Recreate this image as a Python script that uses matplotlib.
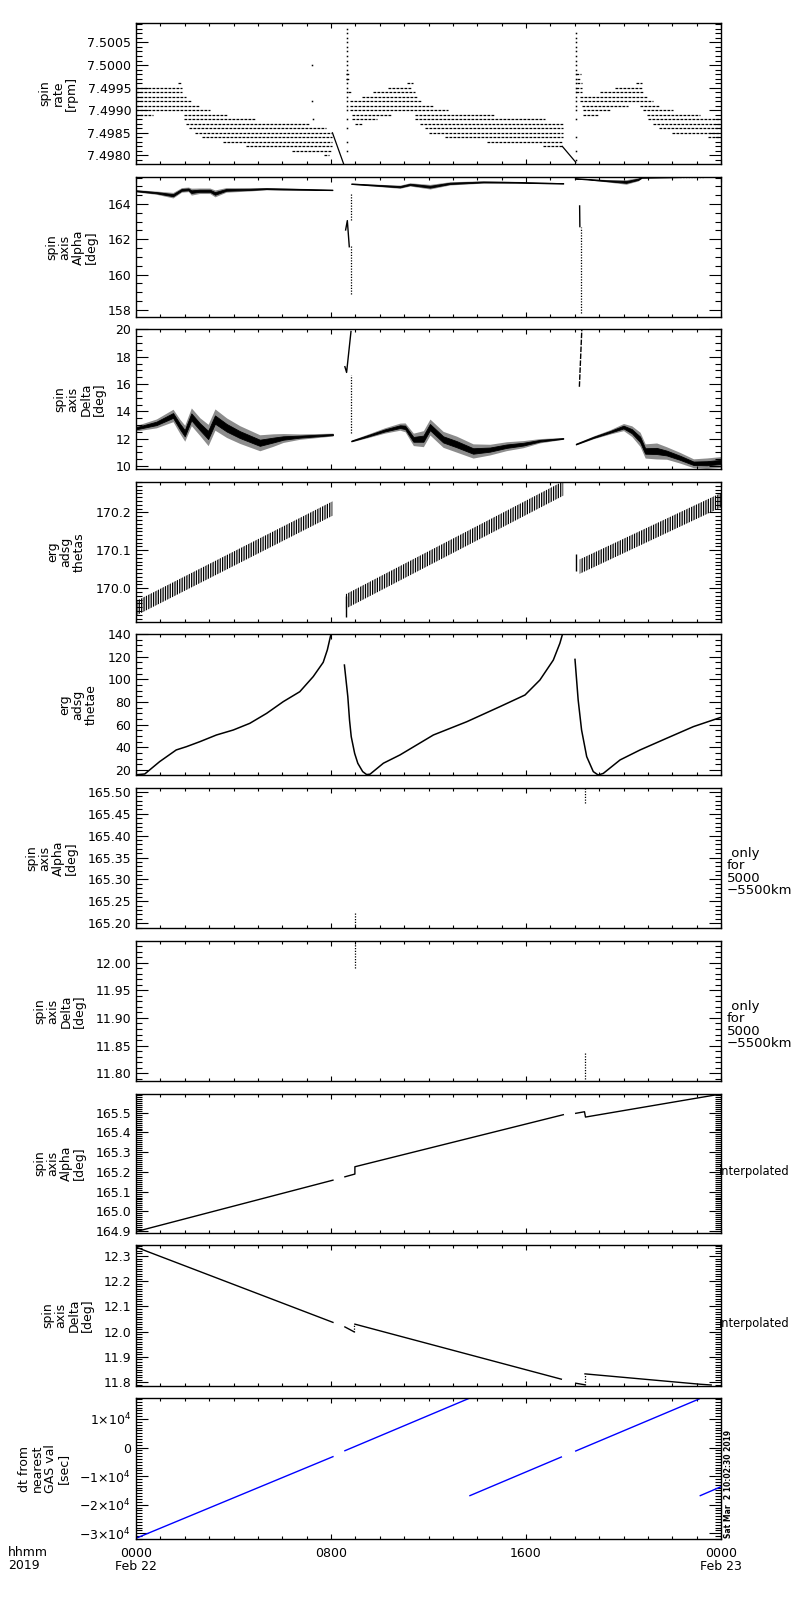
import numpy as np
import matplotlib

matplotlib.use("Agg")
import matplotlib.pyplot as plt
from matplotlib.ticker import MultipleLocator, AutoMinorLocator, FuncFormatter, FormatStrFormatter

plt.rcParams["font.family"] = ["DejaVu Sans"]
plt.rcParams["font.size"] = 9
plt.rcParams["hatch.linewidth"] = 0.9

# ---------------------------------------------------------------- data
# time axis is hours since 2019-02-22 00:00

# spin rate: quantised runs (level, start, end) per orbit
rate1_lvl = [7.4996, 7.4995, 7.4994, 7.4993, 7.4992, 7.4991, 7.4990, 7.4989, 7.4989,
             7.4988, 7.4987, 7.4986, 7.4985, 7.4984, 7.4983, 7.4982, 7.4981, 7.4980]
rate1_t0 = [1.73, 0, 0, 0, 0, 0, 0, 0, 1.95, 1.95, 2.07, 2.17, 2.40, 2.70, 3.57, 4.50, 6.40, 7.70]
rate1_t1 = [1.87, 1.87, 1.90, 2.07, 2.24, 2.60, 3.03, 0.70, 3.78, 4.90, 7.10, 7.80, 8.06, 8.06,
            8.06, 8.06, 8.06, 7.90]

rate2_lvl = [7.4998, 7.4997, 7.4996, 7.4995, 7.4994, 7.4994, 7.4993, 7.4992, 7.4991, 7.4990,
             7.4989, 7.4989, 7.4988, 7.4988, 7.4987, 7.4987, 7.4986, 7.4985, 7.4984, 7.4983,
             7.4982]
rate2_t0 = [8.62, 8.62, 11.10, 10.35, 8.68, 9.74, 9.26, 8.78, 8.78, 8.78, 8.85, 11.45, 8.85,
            11.45, 8.98, 11.65, 11.86, 12.00, 12.68, 14.41, 16.71]
rate2_t1 = [8.72, 8.72, 11.35, 11.31, 8.85, 11.45, 11.58, 11.72, 12.20, 12.81, 10.49, 14.73,
            9.87, 16.78, 9.26, 17.53, 17.53, 17.53, 17.53, 17.53, 17.53]

rate3_lvl = [7.4998, 7.4997, 7.4996, 7.4996, 7.4995, 7.4995, 7.4994, 7.4994, 7.4993, 7.4992,
             7.4991, 7.4991, 7.4990, 7.4990, 7.4989, 7.4989, 7.4988, 7.4987, 7.4986, 7.4985,
             7.4984]
rate3_t0 = [18.04, 18.08, 18.08, 20.50, 18.04, 19.65, 18.04, 19.04, 18.20, 18.20, 18.28, 20.68,
            18.33, 20.81, 18.35, 20.95, 21.02, 21.22, 21.47, 21.98, 23.48]
rate3_t1 = [18.26, 18.20, 18.30, 20.75, 18.30, 20.82, 18.30, 20.82, 20.95, 21.22, 20.20, 21.50,
            19.45, 22.04, 18.97, 23.14, 24.0, 24.0, 24.0, 24.0, 24.0]

rate_drop1_t = [8.06, 8.52]
rate_drop1_v = [7.4985, 7.49781]
rate_drop2_t = [17.49, 18.04]
rate_drop2_v = [7.4982, 7.49785]

rate_spike1_t = 8.64
rate_spike1_v = [7.4981, 7.4983, 7.4986, 7.4988, 7.4990, 7.4991, 7.4992, 7.4993, 7.4994,
                 7.4995, 7.4996, 7.4997, 7.4998, 7.4999, 7.5000, 7.5001, 7.5002, 7.5003,
                 7.5004, 7.5005, 7.5006, 7.5007, 7.5008]
rate_spike2_t = 18.04
rate_spike2_v = [7.4979, 7.4981, 7.4984, 7.4988, 7.4990, 7.4991, 7.4992, 7.4993, 7.4994,
                 7.4995, 7.4996, 7.4997, 7.4998, 7.4999, 7.5000, 7.5001, 7.5002, 7.5003,
                 7.5004, 7.5005, 7.5006, 7.5007]
rate_stray_t = [7.22, 7.22, 7.25]
rate_stray_v = [7.5000, 7.4992, 7.4988]

# spin axis alpha (measured): centre and half width of the noisy band
alpha1_t = [0, 0.84, 1.52, 1.87, 2.15, 2.27, 2.6, 3.03, 3.24, 3.7, 4.67, 5.35, 6.04, 8.06]
alpha1_c = [164.75, 164.64, 164.5, 164.8, 164.83, 164.7, 164.75, 164.75, 164.6, 164.8,
            164.83, 164.87, 164.85, 164.8]
alpha1_w = [0.05, 0.07, 0.12, 0.1, 0.1, 0.15, 0.12, 0.12, 0.15, 0.1, 0.07, 0.05, 0.05, 0.03]
alpha2_t = [8.83, 10.0, 10.83, 11.24, 12.06, 12.88, 14.25, 15.6, 17.53]
alpha2_c = [165.15, 165.05, 164.98, 165.11, 164.98, 165.17, 165.25, 165.23, 165.17]
alpha2_w = [0.03, 0.05, 0.07, 0.07, 0.1, 0.07, 0.05, 0.04, 0.03]
alpha3_t = [18.0, 18.48, 19.3, 20.11, 20.6, 20.75, 22.33]
alpha3_c = [165.45, 165.41, 165.32, 165.25, 165.4, 165.51, 165.53]
alpha3_w = [0.03, 0.03, 0.05, 0.1, 0.07, 0.04, 0.02]
alpha_spike1_t = [8.6, 8.67, 8.75]
alpha_spike1_v = [162.53, 163.06, 161.58]
alpha_spike2_t = [18.2, 18.21]
alpha_spike2_v = [163.89, 162.72]
alpha_dots_t = [8.8, 8.84, 18.25]
alpha_dots_lo = [158.9, 163.1, 157.8]
alpha_dots_hi = [161.6, 164.64, 162.7]

# spin axis delta (measured)
delta1_t = [0, 0.84, 1.52, 1.8, 2.0, 2.27, 2.62, 2.96, 3.24, 3.72, 4.26, 5.08, 5.63, 6.04,
            6.72, 8.08]
delta1_c = [12.76, 13.12, 13.7, 12.9, 12.4, 13.6, 12.88, 12.27, 13.4, 12.8, 12.3, 11.7, 11.9,
            12.05, 12.15, 12.3]
delta1_w = [0.15, 0.25, 0.35, 0.4, 0.45, 0.5, 0.5, 0.6, 0.6, 0.55, 0.5, 0.45, 0.35, 0.25,
            0.15, 0.08]
delta2_t = [8.83, 9.5, 10.2, 10.83, 11.04, 11.38, 11.79, 12.06, 12.6, 13.15, 13.83, 14.52,
            15.2, 15.89, 16.57, 17.53]
delta2_c = [11.83, 12.2, 12.6, 12.88, 12.83, 11.95, 12.0, 12.85, 11.95, 11.6, 11.1, 11.2,
            11.45, 11.6, 11.85, 12.02]
delta2_w = [0.05, 0.1, 0.15, 0.2, 0.25, 0.35, 0.45, 0.45, 0.45, 0.45, 0.4, 0.3, 0.25, 0.2,
            0.12, 0.05]
delta3_t = [18.04, 18.77, 19.45, 20.0, 20.34, 20.68, 20.89, 21.36, 21.77, 22.32, 22.87, 23.42, 24]
delta3_c = [11.6, 12.1, 12.5, 12.85, 12.55, 11.95, 11.1, 11.1, 10.95, 10.6, 10.2, 10.2, 10.3]
delta3_w = [0.05, 0.08, 0.12, 0.2, 0.3, 0.4, 0.4, 0.45, 0.35, 0.3, 0.25, 0.3, 0.3]
delta_spike1_t = [8.57, 8.64, 8.82]
delta_spike1_v = [17.27, 16.85, 19.85]
delta_spike2_t = [18.19, 18.29]
delta_spike2_v = [15.8, 20.0]
delta_dots_t = [8.82]
delta_dots_lo = [12.4]
delta_dots_hi = [16.66]

# erg adsg thetas: straight bands (start/end centre)
thetas_t = [[0, 8.06], [8.6, 17.53], [18.2, 24.0]]
thetas_c = [[169.947, 170.21], [169.965, 170.263], [170.057, 170.232]]
thetas_w = 0.019
thetas_spike_t = [8.6, 18.04]
thetas_spike_lo = [169.925, 170.045]
thetas_spike_hi = [169.98, 170.09]

# erg adsg thetae
thetae1_t = [0, 0.36, 0.97, 1.65, 2.07, 2.62, 3.3, 3.99, 4.67, 5.36, 6.04, 6.72, 7.27, 7.68,
             7.85, 8.0]
thetae1_v = [15.8, 16.5, 27.4, 37.7, 40.6, 45, 50.9, 55.3, 61.2, 70, 80.3, 89.1, 102.4, 115,
             126, 140]
thetae2_t = [8.55, 8.69, 8.76, 8.83, 8.97, 9.1, 9.3, 9.46, 9.6, 10.15, 10.83, 12.2, 13.57,
             14.93, 15.96, 16.57, 17.12, 17.39, 17.5]
thetae2_v = [112.6, 84.7, 64, 49.4, 34.7, 25.9, 18.6, 16.0, 16.3, 26, 33.3, 50.9, 62.6, 75.9,
             86.2, 99.4, 117, 131.8, 140]
thetae3_t = [18.01, 18.14, 18.28, 18.49, 18.76, 18.96, 19.17, 19.86, 20.68, 21.77, 22.87, 24.0]
thetae3_v = [117.6, 81.8, 55.3, 31.8, 18.6, 15.6, 17, 28.9, 37.7, 48, 58.3, 66.5]

# 5000-5500 km only samples
only_t = [9.0, 18.44]
only_alpha_lo = [165.19, 165.475]
only_alpha_hi = [165.226, 165.509]
only_delta_lo = [11.99, 11.79]
only_delta_hi = [12.035, 11.838]

# interpolated alpha / delta
ialpha1_t = [0, 8.08]
ialpha1_v = [164.897, 165.158]
ialpha2_t = [8.57, 8.98, 8.98, 17.53]
ialpha2_v = [165.175, 165.189, 165.226, 165.49]
ialpha3_t = [18.04, 18.4, 18.44, 24.0]
ialpha3_v = [165.497, 165.505, 165.478, 165.595]

idelta1_t = [0, 8.08]
idelta1_v = [12.335, 12.037]
idelta2_t = [8.57, 8.94]
idelta2_v = [12.019, 12.0]
idelta2b_t = [8.98, 17.45]
idelta2b_v = [12.03, 11.812]
idelta3_t = [18.04, 18.4]
idelta3_v = [11.796, 11.79]
idelta3b_t = [18.42, 23.14, 23.6]
idelta3b_v = [11.833, 11.792, 11.789]
idelta_jump_t = [8.96, 18.41]
idelta_jump_lo = [12.0, 11.79]
idelta_jump_hi = [12.03, 11.833]

# dt from nearest GAS value [s]
dt_seg_t = [[0, 8.08], [8.57, 13.66], [13.7, 17.45], [18.04, 23.1], [23.15, 24.0]]
dt_seg_v = [[-31750, -3180], [-1100, 17200], [-16820, -3300], [-1200, 17000], [-16820, -13700]]

# ---------------------------------------------------------------- layout
panel_top = [23, 177, 329, 482, 634, 788, 941, 1094, 1245, 1398]
panel_bot = [164, 317, 469, 622, 775, 928, 1081, 1233, 1386, 1539]
ylabels = ["spin\nrate\n[rpm]", "spin\naxis\nAlpha\n[deg]", "spin\naxis\nDelta\n[deg]",
           "erg\nadsg\nthetas", "erg\nadsg\nthetae", "spin\naxis\nAlpha\n[deg]",
           "spin\naxis\nDelta\n[deg]", "spin\naxis\nAlpha\n[deg]", "spin\naxis\nDelta\n[deg]",
           "dt from\nnearest\nGAS val\n[sec]"]
ylims = [(7.49781, 7.50093), (157.6, 165.53), (9.78, 20.03), (169.911, 170.28), (15.6, 140),
         (165.189, 165.509), (11.786, 12.039), (164.89, 165.595), (11.785, 12.3435),
         (-32000, 17350)]
y_major = [0.0005, 2, 2, 0.1, 20, 0.05, 0.05, 0.1, 0.1, 1e4]
y_minor = [5, 4, 4, 10, 4, 5, 5, 10, 10, 10]


def dt_label(v, pos):
    n = int(round(v / 1e4))
    if n == 0:
        return "0"
    sign = "\u2212" if n < 0 else ""
    return sign + str(abs(n)) + r"$\times10^{4}$"


y_fmt = [FormatStrFormatter("%.4f"), FormatStrFormatter("%d"), FormatStrFormatter("%d"),
         FormatStrFormatter("%.1f"), FormatStrFormatter("%d"), FormatStrFormatter("%.2f"),
         FormatStrFormatter("%.2f"), FormatStrFormatter("%.1f"), FormatStrFormatter("%.1f"),
         FuncFormatter(dt_label)]

W, H = 800, 1600
LEFT, RIGHT = 136, 721
DOTS = (0, (1, 1.2))
DASHDOT = (0, (2.2, 1.0))

fig = plt.figure(figsize=(W / 100, H / 100), dpi=100)
axes = []
for i in range(10):
    ax = fig.add_axes([LEFT / W, 1 - panel_bot[i] / H, (RIGHT - LEFT) / W,
                       (panel_bot[i] - panel_top[i]) / H])
    ax.set_xlim(0, 24)
    ax.set_ylim(*ylims[i])
    ax.xaxis.set_major_locator(MultipleLocator(8))
    ax.xaxis.set_minor_locator(MultipleLocator(1))
    ax.yaxis.set_major_locator(MultipleLocator(y_major[i]))
    ax.yaxis.set_minor_locator(AutoMinorLocator(y_minor[i]))
    ax.yaxis.set_major_formatter(y_fmt[i])
    ax.tick_params(axis="both", which="both", direction="in", top=True, right=True,
                   width=0.8, labelbottom=False, labelsize=9)
    ax.tick_params(axis="y", which="major", length=8.6)
    ax.tick_params(axis="y", which="minor", length=4.3)
    ax.tick_params(axis="x", which="major", length=3.6)
    ax.tick_params(axis="x", which="minor", length=2.2)
    for sp in ax.spines.values():
        sp.set_linewidth(1.0)
    ax.set_ylabel(ylabels[i], linespacing=1.0, labelpad=7, fontsize=9)
    axes.append(ax)


def band(ax, t, c, w):
    # scattered samples: grey halo with a dense black core
    c = np.asarray(c, dtype=float)
    w = np.asarray(w, dtype=float)
    ax.fill_between(t, c - 1.3 * w, c + 1.3 * w, color="0.55", lw=0)
    ax.fill_between(t, c - 0.5 * w, c + 0.5 * w, color="black", lw=0.6)


# panel 1: spin rate
ax = axes[0]
for lvl, t0, t1 in ((rate1_lvl, rate1_t0, rate1_t1), (rate2_lvl, rate2_t0, rate2_t1),
                    (rate3_lvl, rate3_t0, rate3_t1)):
    ax.hlines(lvl, t0, t1, colors="black", linestyles=[DASHDOT], lw=0.9)
ax.plot(rate_drop1_t, rate_drop1_v, color="black", lw=0.9)
ax.plot(rate_drop2_t, rate_drop2_v, color="black", lw=0.9)
ax.plot([rate_spike1_t] * len(rate_spike1_v), rate_spike1_v, "s", color="black", ms=1.1, mew=0)
ax.plot([rate_spike2_t] * len(rate_spike2_v), rate_spike2_v, "s", color="black", ms=1.1, mew=0)
ax.plot(rate_stray_t, rate_stray_v, "s", color="black", ms=1.1, mew=0)

# panel 2: spin axis alpha
ax = axes[1]
band(ax, alpha1_t, alpha1_c, alpha1_w)
band(ax, alpha2_t, alpha2_c, alpha2_w)
band(ax, alpha3_t, alpha3_c, alpha3_w)
ax.hlines([alpha3_c[-1]], [alpha3_t[-1]], [23.3], colors="black", linestyles=[DOTS], lw=0.9)
ax.plot(alpha_spike1_t, alpha_spike1_v, color="black", lw=1.0)
ax.plot(alpha_spike2_t, alpha_spike2_v, color="black", lw=1.0)
ax.vlines(alpha_dots_t, alpha_dots_lo, alpha_dots_hi, colors="black", linestyles=[DOTS], lw=0.9)

# panel 3: spin axis delta
ax = axes[2]
band(ax, delta1_t, delta1_c, delta1_w)
band(ax, delta2_t, delta2_c, delta2_w)
band(ax, delta3_t, delta3_c, delta3_w)
ax.plot(delta_spike1_t, delta_spike1_v, color="black", lw=1.0)
ax.plot(delta_spike2_t, delta_spike2_v, color="black", lw=1.0, ls=(0, (4, 1)))
ax.vlines(delta_dots_t, delta_dots_lo, delta_dots_hi, colors="black", linestyles=[DOTS], lw=0.9)

# panel 4: thetas
ax = axes[3]
for t, c in zip(thetas_t, thetas_c):
    c = np.asarray(c)
    ax.fill_between(t, c - thetas_w, c + thetas_w, facecolor="none", edgecolor="black",
                    hatch="|||||||", lw=0)
ax.vlines(thetas_spike_t, thetas_spike_lo, thetas_spike_hi, colors="black", lw=1.0)

# panel 5: thetae
ax = axes[4]
ax.plot(thetae1_t, thetae1_v, color="black", lw=1.1)
ax.plot(thetae2_t, thetae2_v, color="black", lw=1.1)
ax.plot(thetae3_t, thetae3_v, color="black", lw=1.1)

# panels 6, 7: only 5000-5500 km
axes[5].vlines(only_t, only_alpha_lo, only_alpha_hi, colors="black", linestyles=[DOTS], lw=0.9)
axes[6].vlines(only_t, only_delta_lo, only_delta_hi, colors="black", linestyles=[DOTS], lw=0.9)
for ax in axes[5:7]:
    ax.text(1.01, 0.4, " only\nfor\n5000\n\u22125500km", transform=ax.transAxes,
            ha="left", va="center", fontsize=9.5, linespacing=0.95)

# panels 8, 9: interpolated
ax = axes[7]
ax.plot(ialpha1_t, ialpha1_v, color="black", lw=1.0)
ax.plot(ialpha2_t, ialpha2_v, color="black", lw=1.0)
ax.plot(ialpha3_t, ialpha3_v, color="black", lw=1.0)
ax = axes[8]
ax.plot(idelta1_t, idelta1_v, color="black", lw=1.0)
ax.plot(idelta2_t, idelta2_v, color="black", lw=1.0)
ax.plot(idelta2b_t, idelta2b_v, color="black", lw=1.0)
ax.plot(idelta3_t, idelta3_v, color="black", lw=1.0)
ax.plot(idelta3b_t, idelta3b_v, color="black", lw=1.0)
ax.vlines(idelta_jump_t, idelta_jump_lo, idelta_jump_hi, colors="black", linestyles=[DOTS], lw=0.9)
for ax in axes[7:9]:
    ax.text(0.997, 0.44, "interpolated", transform=ax.transAxes, ha="left", va="center",
            fontsize=8.3)

# panel 10: dt
ax = axes[9]
for t, v in zip(dt_seg_t, dt_seg_v):
    ax.plot(t, v, color="blue", lw=1.0)
ax.tick_params(axis="x", labelbottom=True, pad=6)
ax.set_xticks([0, 8, 16, 24])
ax.set_xticklabels(["0000\nFeb 22", "0800", "1600", "0000\nFeb 23"], fontsize=9,
                   linespacing=1.0, va="top")

fig.text(8 / W, 1 - 1546 / H, "hhmm\n2019", ha="left", va="top", fontsize=9, linespacing=1.0)
fig.text(724 / W, 1 - 1538 / H, "Sat Mar  2 10:02:30 2019", rotation=90, ha="left",
         va="bottom", fontsize=5.5, fontweight="bold")

fig.savefig("out.png", dpi=100)
